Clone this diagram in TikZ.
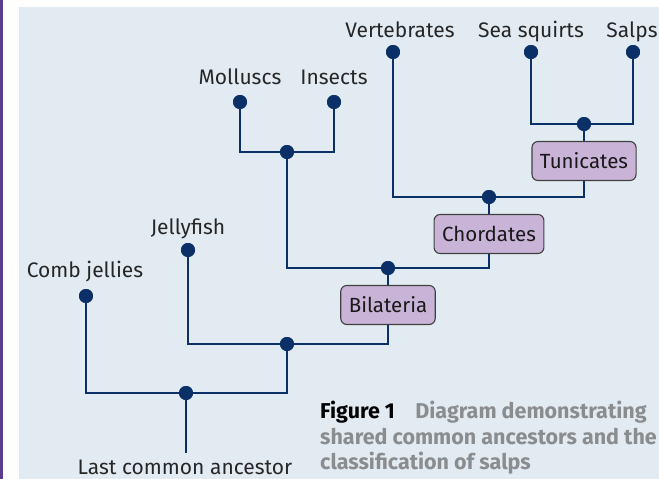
\documentclass[tikz,border=0pt]{standalone}
\usepackage{fontspec}
\setmainfont{Fira Sans}
\definecolor{bgc}{HTML}{E3EBF2}
\definecolor{navy}{HTML}{0B3068}
\definecolor{lilac}{HTML}{C9B4D8}
\definecolor{bar}{HTML}{5B3B8C}
\definecolor{capgray}{HTML}{8A8C8E}
\begin{document}
\begin{tikzpicture}[x=1pt,y=-1pt,
  lbl/.style={font=\fontsize{21}{23}\selectfont, text=black!85, inner sep=0pt, anchor=base},
  dot/.style={circle, fill=navy, minimum size=14pt, inner sep=0pt},
  jn/.style={circle, fill=navy, minimum size=14pt, inner sep=0pt},
  grp/.style={draw=black!75, line width=1.1pt, fill=lilac, rounded corners=6pt,
    font=\fontsize{20.5}{22}\selectfont, text=black!90, minimum height=39pt, inner xsep=8pt},
  br/.style={draw=navy, line width=2.4pt}]
\useasboundingbox (0,0) rectangle (659,479);
\fill[white] (0,0) rectangle (659,479);
\fill[bar] (0,0) rectangle (3,479);
\fill[bgc] (19,7) rectangle (659,479);

% leaves
\node[dot] (comb) at (86,296) {};
\node[dot] (jelly) at (188,250) {};
\node[dot] (moll) at (240,102) {};
\node[dot] (ins) at (334,102) {};
\node[dot] (vert) at (393,52) {};
\node[dot] (sea) at (531,52) {};
\node[dot] (salp) at (633,52) {};

% labels
\node[lbl] (lcomb) at (85,277) {Comb jellies};
\node[lbl] (ljelly) at (188,234) {Jellyfish};
\node[lbl] (lmoll) at (240,84) {Molluscs};
\node[lbl] (lins) at (334,84) {Insects};
\node[lbl] (lvert) at (400,37) {Vertebrates};
\node[lbl] (lsea) at (531,37) {Sea squirts};
\node[lbl] (lsalp) at (632,37) {Salps};
\node[lbl, text depth=0pt] (lroot) at (185,474) {Last common ancestor};

% junctions
\node[jn] (jmi) at (287,152) {};
\node[jn] (jss) at (584,124) {};
\node[jn] (jch) at (489,197) {};
\node[jn] (jbi) at (388,268) {};
\node[jn] (jbj) at (287,344) {};
\node[jn] (jroot) at (186,393) {};
\coordinate (root) at (186,453);

% group boxes
\node[grp] (tun) at (584,161) {Tunicates};
\node[grp] (cho) at (489,234) {Chordates};
\node[grp] (bil) at (388,305) {Bilateria};

% branches
\draw[br] (moll.center) |- (jmi.center) -| (ins.center);
\draw[br] (sea.center) |- (jss.center) -| (salp.center);
\draw[br] (jss.center) -- (tun.north);
\draw[br] (tun.south) |- (jch.center);
\draw[br] (vert.center) |- (jch.center);
\draw[br] (jch.center) -- (cho.north);
\draw[br] (cho.south) |- (jbi.center);
\draw[br] (jmi.center) |- (jbi.center);
\draw[br] (jbi.center) -- (bil.north);
\draw[br] (bil.south) |- (jbj.center);
\draw[br] (jelly.center) |- (jbj.center);
\draw[br] (jbj.center) |- (jroot.center);
\draw[br] (comb.center) |- (jroot.center);
\draw[br] (jroot.center) -- (root);

% redraw dots on top
\foreach \n in {comb,jelly,moll,ins,vert,sea,salp,jmi,jss,jch,jbi,jbj,jroot}
  \fill[navy] (\n) circle (7pt);

% caption
\node[anchor=north west, inner sep=0pt, align=left,
  font=\fontsize{21.5}{25.5}\selectfont\bfseries, text=capgray] (cap) at (320,401)
  {\textcolor{black}{Figure 1}\hspace{0.95em}Diagram demonstrating\\shared common ancestors and the\\classification of salps};
\end{tikzpicture}
\end{document}
